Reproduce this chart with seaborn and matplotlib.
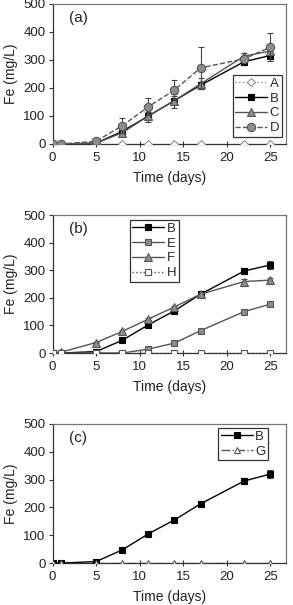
import pandas as pd
import matplotlib
matplotlib.use('Agg')
import matplotlib.pyplot as plt
import numpy as np
import seaborn as sns

days = [0, 1, 5, 8, 11, 14, 17, 22, 25]

# panel (a)
a_A = [0, 0, 0, 0, 0, 0, 0, 0, 0]
a_B = [0, 0, 3, 45, 100, 155, 210, 294, 316]
a_C = [0, 0, 3, 40, 100, 155, 215, 314, 332]
a_D = [0, 0, 10, 65, 133, 193, 272, 304, 346]
a_B_err = [0, 0, 2, 8, 15, 15, 12, 12, 12]
a_C_err = [0, 0, 2, 10, 22, 25, 20, 10, 10]
a_D_err = [0, 0, 3, 27, 30, 35, 75, 8, 50]

# panel (b)
b_B = [0, 0, 5, 46, 102, 153, 213, 297, 319]
b_E = [0, 0, 0, 0, 14, 36, 81, 150, 177]
b_F = [0, 3, 38, 78, 123, 167, 213, 259, 264]
b_H = [0, 0, 0, 0, 0, 0, 0, 0, 0]
b_B_err = [0, 0, 1, 5, 8, 8, 8, 10, 15]
b_E_err = [0, 0, 0, 0, 3, 3, 5, 5, 8]
b_F_err = [0, 0, 3, 5, 5, 5, 5, 8, 8]

# panel (c)
c_B = [0, 0, 5, 47, 105, 155, 213, 295, 320]
c_G = [0, 0, 0, 0, 0, 0, 0, 0, 0]
c_B_err = [0, 0, 2, 5, 5, 5, 8, 12, 15]

sns.set_theme(style="white")
plt.rcParams['font.family'] = ['Liberation Sans', 'DejaVu Sans']
plt.rcParams['font.size'] = 9

fig = plt.figure(figsize=(2.93, 6.05), dpi=100)
L, W = 52.5 / 293, 233.5 / 293
boxes = [(144, 140), (353, 138), (563, 139)]
axes = [fig.add_axes([L, 1 - b / 605, W, h / 605]) for b, h in boxes]

GRAY = '#8c8c8c'
styles = {
    'A': dict(color='#909090', marker='D', mfc='white', mec='#909090', ls=':', ms=4.5),
    'B': dict(color='black', marker='s', mfc='black', mec='black', ls='-', ms=5),
    'C': dict(color='#555555', marker='^', mfc=GRAY, mec='#555555', ls='-', ms=5.5),
    'D': dict(color='#555555', marker='o', mfc=GRAY, mec='#555555', ls='--', ms=6),
    'E': dict(color='#555555', marker='s', mfc=GRAY, mec='#555555', ls='-', ms=5),
    'F': dict(color='#555555', marker='^', mfc=GRAY, mec='#555555', ls='-', ms=5.5),
    'H': dict(color='#555555', marker='s', mfc='white', mec='#555555', ls=':', ms=5),
    'G': dict(color='#555555', marker='^', mfc='white', mec='#555555', ls='-.', ms=5),
}

panels = [
    ('(a)', [('A', a_A, None), ('B', a_B, a_B_err), ('C', a_C, a_C_err), ('D', a_D, a_D_err)],
     (0.983, 0.05, 'lower right')),
    ('(b)', [('B', b_B, b_B_err), ('E', b_E, b_E_err), ('F', b_F, b_F_err), ('H', b_H, None)],
     (0.33, 0.965, 'upper left')),
    ('(c)', [('B', c_B, c_B_err), ('G', c_G, None)],
     (0.71, 0.972, 'upper left')),
]

for ax, (tag, series, lpos) in zip(axes, panels):
    handles = []
    for i, (name, vals, err) in enumerate(series):
        st = styles[name]
        df = pd.DataFrame({'day': days, 'fe': vals})
        if err is not None:
            ax.errorbar(days, vals, yerr=err, fmt='none', ecolor='#444444',
                        elinewidth=0.8, capsize=2, capthick=0.8, zorder=2 + i)
        sns.lineplot(data=df, x='day', y='fe', ax=ax, color=st['color'],
                     linestyle=st['ls'], linewidth=1.0, marker=st['marker'],
                     markersize=st['ms'], markerfacecolor=st['mfc'],
                     markeredgecolor=st['mec'], markeredgewidth=0.8,
                     zorder=3 + i)
        handles.append(plt.Line2D([], [], color=st['color'], linestyle=st['ls'],
                                  linewidth=1.0, marker=st['marker'],
                                  markersize=st['ms'], markerfacecolor=st['mfc'],
                                  markeredgecolor=st['mec'], markeredgewidth=0.8))
    leg = ax.legend(handles, [s[0] for s in series], loc=lpos[2],
                    bbox_to_anchor=lpos[:2], fontsize=9.5, frameon=True, fancybox=False,
                    edgecolor='#333333', framealpha=1, handlelength=2.4,
                    handletextpad=0.2, borderpad=0.2, labelspacing=0.2,
                    borderaxespad=0)
    leg.get_frame().set_linewidth(0.9)
    ax.set_xlim(0, 26.8)
    ax.set_ylim(0, 500)
    ax.set_xticks([0, 5, 10, 15, 20, 25])
    ax.set_yticks([0, 100, 200, 300, 400, 500])
    ax.set_xlabel('Time (days)', fontsize=10, labelpad=5)
    ax.set_ylabel('Fe (mg/L)', fontsize=10, labelpad=4)
    ax.text(0.11, 0.9, tag, transform=ax.transAxes, fontsize=11,
            ha='center', va='center', color='#222222')
    for sp in ax.spines.values():
        sp.set_color('#777777')
        sp.set_linewidth(0.9)
    ax.spines['left'].set_color('#333333')
    ax.spines['bottom'].set_color('#333333')
    ax.tick_params(axis='x', direction='inout', length=4, width=0.8, pad=4,
                   labelsize=9.5, bottom=True, colors='#333333')
    ax.tick_params(axis='y', direction='out', length=3, width=0.8, pad=2,
                   labelsize=9.5, left=True, colors='#333333')
    for lab in ax.get_xticklabels() + ax.get_yticklabels():
        lab.set_color('#222222')
    ax.xaxis.label.set_color('#222222')
    ax.yaxis.label.set_color('#222222')

fig.savefig('out.png', dpi=100)
